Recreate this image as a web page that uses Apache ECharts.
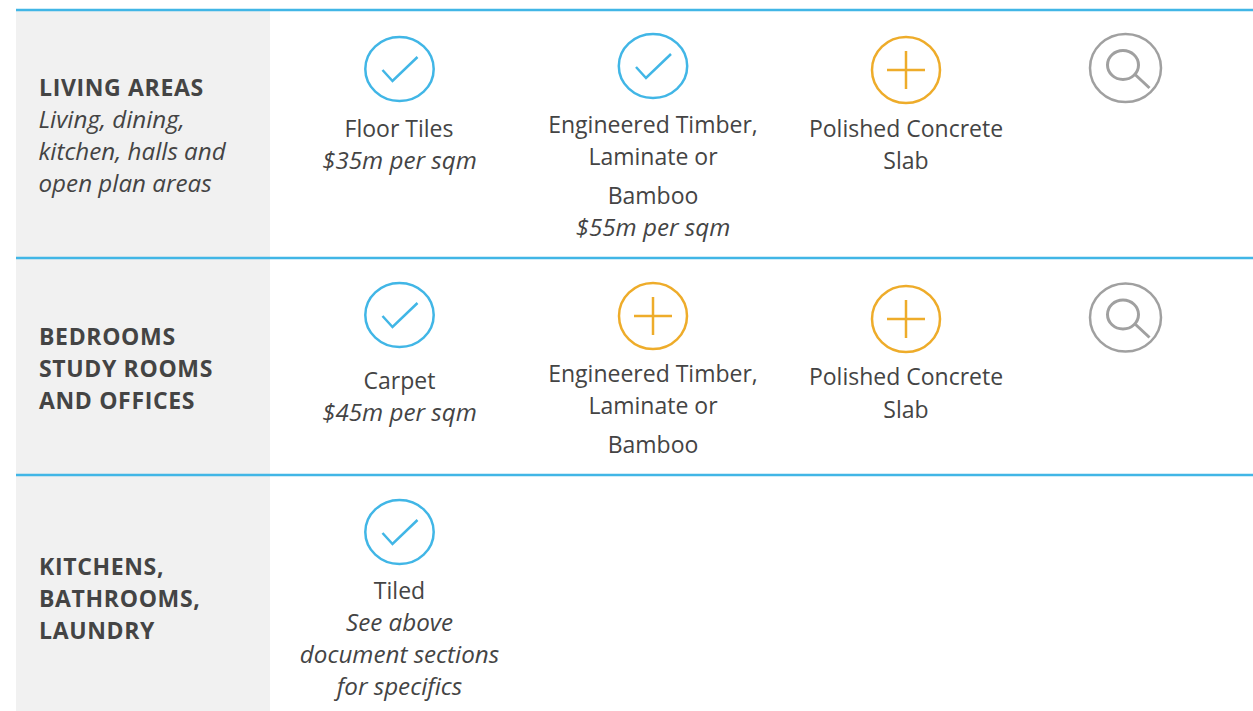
<!DOCTYPE html>
<html><head><meta charset="utf-8">
<script src="https://cdn.jsdelivr.net/npm/echarts@6/dist/echarts.min.js"></script>
<style>html,body{margin:0;background:#fff}#c{width:1253px;height:711px}
svg text[style*="bold"]{letter-spacing:.65px}</style></head>
<body><div id="c"></div>
<script>
// [left, right] of the label column, row rule positions
const labelBand = [16, 270, 10, 711];
const ruleRows = [10, 258, 475];
// icons: [centre x, centre y, kind]
const iconCenters = [
 [399.5,69,'check'],[653,66,'check'],[906,70,'plus'],[1125.5,68,'search'],
 [399.5,315,'check'],[653,316,'plus'],[906,319,'plus'],[1125.5,317.5,'search'],
 [399.5,532,'check']
];
// text lines: [x, y, text, style]
const rowLabels = [
 [39,87,'LIVING AREAS','h'],[38.5,118,'Living, dining,','i'],[38.5,150,'kitchen, halls and','i'],[38.5,182,'open plan areas','i'],
 [39,336,'BEDROOMS','h'],[39,368,'STUDY ROOMS','h'],[39,400,'AND OFFICES','h'],
 [39,566,'KITCHENS,','h'],[39,598,'BATHROOMS,','h'],[39,630,'LAUNDRY','h']
];
const cellLabels = [
 [399,128,'Floor Tiles','n'],[399.5,159,'$35m per sqm','i'],
 [653,124,'Engineered Timber,','n'],[653,156,'Laminate or','n'],[653,195,'Bamboo','n'],[653,226,'$55m per sqm','i'],
 [906,128,'Polished Concrete','n'],[906,160,'Slab','n'],
 [399.5,380,'Carpet','n'],[399.5,411,'$45m per sqm','i'],
 [653,373,'Engineered Timber,','n'],[653,405,'Laminate or','n'],[653,444,'Bamboo','n'],
 [906,376,'Polished Concrete','n'],[906,409,'Slab','n'],
 [399.5,590,'Tiled','n'],[399.5,621,'See above','i'],[399.5,653,'document sections','i'],[399.5,685,'for specifics','i']
];
const BLUE='#41b6e6', GOLD='#eeac2a', GREY='#a0a0a0', INK='#444444';
const fonts={h:'bold 23px "Open Sans"',i:'italic 24.2px "Open Sans"',n:'23px "Open Sans"'};
const radii={check:[34.2,32],plus:[34,33],search:[35.5,34]};
const chart=echarts.init(document.getElementById('c'),null,{renderer:'svg',width:1253,height:711});
function iconItem(p,api){
  const c=api.coord([p[0],p[1]]),x=c[0],y=c[1],k=p[2];
  const col=k==='check'?BLUE:k==='plus'?GOLD:GREY, r=radii[k];
  const st={stroke:col,fill:null,lineWidth:2.5};
  const kids=[{type:'ellipse',shape:{cx:x,cy:y,rx:r[0],ry:r[1]},style:st}];
  const line=(a,b,d,e)=>({type:'line',shape:{x1:x+a,y1:y+b,x2:x+d,y2:y+e},style:st});
  if(k==='check') kids.push({type:'polyline',shape:{points:[[x-17,y+1],[x-7,y+12],[x+18,y-12]]},style:st});
  if(k==='plus') kids.push(line(-19,0,19,0),line(0,-19,0,19));
  if(k==='search') kids.push({type:'ellipse',shape:{cx:x-2.5,cy:y-3,rx:15.5,ry:14.5},style:{...st,lineWidth:3}},
     {type:'line',shape:{x1:x+9,y1:y+6,x2:x+24,y2:y+20},style:{...st,lineWidth:3}});
  return {type:'group',children:kids};
}
function textItem(align){return (p,api)=>{
  const c=api.coord([p[0],p[1]]);
  return {type:'text',style:{x:c[0],y:c[1],text:p[2],font:fonts[p[3]],fill:INK,align,verticalAlign:'middle'}};
};}
function series(data,fn){return {type:'custom',coordinateSystem:'cartesian2d',silent:true,clip:false,
  data,encode:{x:0,y:1},renderItem:(ps,api)=>fn(data[ps.dataIndex],api)};}
chart.setOption({
 animation:false,
 grid:{left:0,right:0,top:0,bottom:0},
 xAxis:{type:'value',min:0,max:1253,show:false},
 yAxis:{type:'value',min:0,max:711,inverse:true,show:false},
 series:[
  series([labelBand],(p,api)=>{const a=api.coord([p[0],p[2]]),b=api.coord([p[1],p[3]]);
    return {type:'rect',shape:{x:a[0],y:a[1],width:b[0]-a[0],height:b[1]-a[1]},style:{fill:'#f1f1f1'}};}),
  series(ruleRows.map(y=>[labelBand[0],y]),(p,api)=>{const a=api.coord(p),b=api.coord([1253,p[1]]);
    return {type:'line',shape:{x1:a[0],y1:a[1],x2:b[0],y2:b[1]},style:{stroke:BLUE,lineWidth:2.5}};}),
  series(iconCenters,iconItem),
  series(rowLabels,textItem('left')),
  series(cellLabels,textItem('center'))
 ]
});
</script></body></html>
